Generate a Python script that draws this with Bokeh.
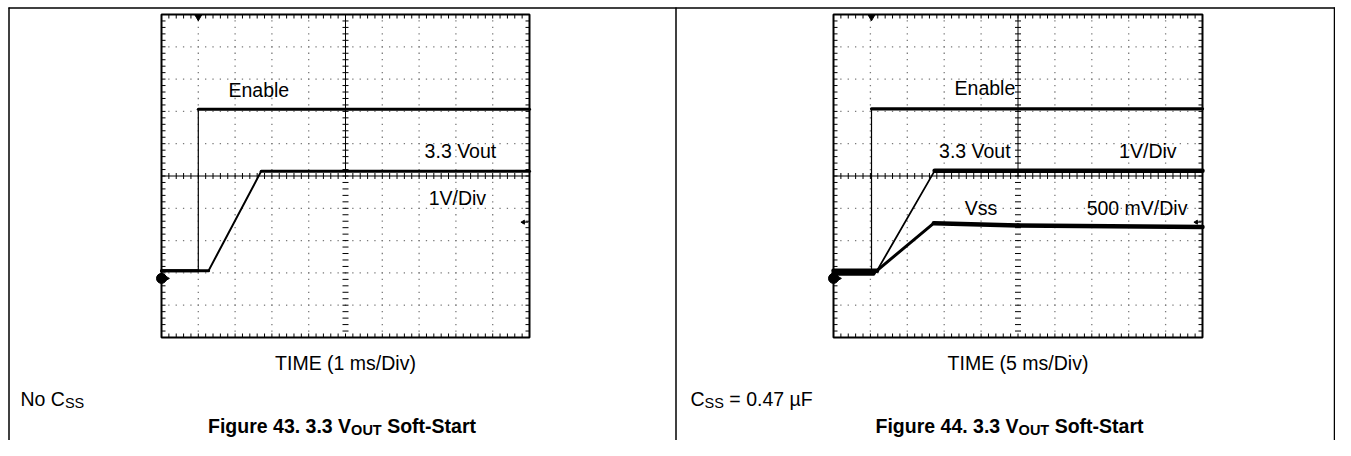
from bokeh.plotting import figure
from bokeh.models import Range1d
from bokeh.embed import file_html
from bokeh.resources import INLINE
from bokeh.core.properties import value

# ---------------- data ----------------
# left scope: time in ms (1 ms/div), vertical position in screen divisions
t1_enable = [0.0, 1.0, 1.0, 10.0]
y1_enable = [-2.93, -2.93, 2.07, 2.07]
t1_vout = [0.0, 1.28, 2.71, 10.0]
y1_vout = [-2.93, -2.93, 0.15, 0.15]

# right scope: time in ms (5 ms/div)
t2_enable = [0.0, 5.15, 5.15, 50.0]
y2_enable = [-2.93, -2.93, 2.08, 2.08]
t2_vout = [0.0, 5.9, 13.7, 50.0]
y2_vout = [-2.93, -2.93, 0.16, 0.16]
t2_vss = [0.0, 5.4, 13.6, 25.0, 50.0]
y2_vss = [-3.02, -3.02, -1.46, -1.53, -1.58]

labels1 = ["Enable", "3.3 Vout", "1V/Div"]
labels2 = ["Enable", "3.3 Vout", "1V/Div", "Vss", "500 mV/Div"]
xlabels = ["TIME (1 ms/Div)", "TIME (5 ms/Div)"]

# ---------------- layout constants (picture pixels) ----------------
W, H = 1335, 440
L1, R1 = 161.0, 529.0
L2, R2 = 833.0, 1202.0
T, B = 14.0, 337.0
FONT = value("Liberation Sans")
FS = 19.5

p = figure(width=W, height=H, output_backend="svg", toolbar_location=None,
           x_range=Range1d(0, W), y_range=Range1d(H, 0),
           x_axis_type=None, y_axis_type=None, min_border=0,
           outline_line_color=None, background_fill_color="white",
           border_fill_color="white")
p.grid.visible = False


def trange(L, R, span):
    k = span / (R - L)
    return Range1d(0 - L * k, span + (W - R) * k)


ky = 10.0 / (B - T)
p.extra_x_ranges = {"t1": trange(L1, R1, 10.0), "t2": trange(L2, R2, 50.0)}
p.extra_y_ranges = {"v": Range1d(-5 - (H - B) * ky, 5 + T * ky)}

# ---------------- page frame lines ----------------
p.segment(x0=[8, 8.5, 675.5, W - 1],
          y0=[7.5, 7, 7, 7],
          x1=[W, 8.5, 675.5, W - 1],
          y1=[7.5, H, H, H],
          line_color="black", line_width=1.5)


def scope(L, R):
    dx = (R - L) / 10.0
    dy = (B - T) / 10.0
    xc = (L + R) / 2
    yc = (T + B) / 2
    xs, ys = [], []
    for i in range(1, 10):
        if i == 5:
            continue
        gx = L + i * dx
        gy = T + i * dy
        for k in range(1, 50):
            xs.append(gx); ys.append(T + k * dy / 5)
            xs.append(L + k * dx / 5); ys.append(gy)
    p.rect(x=xs, y=ys, width=1.3, height=1.3, width_units="screen",
           height_units="screen", fill_color="#7a7a7a", line_color=None)
    p.segment(x0=[xc, L], y0=[T, yc], x1=[xc, R], y1=[yc, yc],
              line_color="black", line_width=1)
    sx0, sy0, sx1, sy1 = [], [], [], []
    for k in range(1, 50):
        xk = L + k * dx / 5
        yk = T + k * dy / 5
        sx0 += [xk, xk, xk, L, R - 4, xc - 3]
        sx1 += [xk, xk, xk, L + 4, R, xc + 3]
        sy0 += [T, B - 4, yc - 3, yk, yk, yk]
        sy1 += [T + 4, B, yc + 3, yk, yk, yk]
    p.segment(x0=sx0, y0=sy0, x1=sx1, y1=sy1, line_color="black", line_width=1)
    p.quad(left=[L], right=[R], top=[T], bottom=[B], fill_color=None,
           line_color="black", line_width=2)


scope(L1, R1)
scope(L2, R2)


def trace(t, y, rng, flat_w=3.0, ramp_w=2.0, edge_w=1.2):
    widths = []
    for i in range(len(t) - 1):
        if t[i] == t[i + 1]:
            widths.append(edge_w)
        elif abs(y[i] - y[i + 1]) < 0.2:
            widths.append(flat_w)
        else:
            widths.append(ramp_w)
    p.segment(x0=t[:-1], y0=y[:-1], x1=t[1:], y1=y[1:], line_color="black",
              line_width=widths, line_cap="round", x_range_name=rng, y_range_name="v")


trace(t1_enable, y1_enable, "t1")
trace(t1_vout, y1_vout, "t1", ramp_w=2.0)
trace(t2_enable, y2_enable, "t2", flat_w=3.2)
trace(t2_vout, y2_vout, "t2", flat_w=4.5, ramp_w=1.8)
trace(t2_vss, y2_vss, "t2", flat_w=4.5, ramp_w=3.0)

# channel ground markers, trigger markers
for rng, span, ttrig in (("t1", 10.0, t1_enable[1]), ("t2", 50.0, t2_enable[1])):
    p.scatter(x=[0], y=[-3.17], size=10, marker="circle", color="black",
              x_range_name=rng, y_range_name="v")
    p.scatter(x=[span * 0.012], y=[-3.17], size=6, marker="triangle", angle=-1.5708,
              color="black", x_range_name=rng, y_range_name="v")
    p.scatter(x=[ttrig], y=[4.93], size=7, marker="inverted_triangle", color="black",
              x_range_name=rng, y_range_name="v")
    p.segment(x0=[span * 0.983], y0=[-1.43], x1=[span * 0.997], y1=[-1.43],
              line_color="black", line_width=1, x_range_name=rng, y_range_name="v")
    p.scatter(x=[span * 0.983], y=[-1.43], size=4, marker="triangle", angle=1.5708,
              color="black", x_range_name=rng, y_range_name="v")

# labels inside the scopes
p.text(x=[1.82, 7.15, 7.26], y=[2.65, 0.77, -0.67], text=labels1,
       text_font=FONT, text_font_size=f"{FS}px", text_align="left",
       text_baseline="middle", text_color="black", x_range_name="t1", y_range_name="v")
p.text(x=[16.4, 14.3, 38.7, 17.8, 34.3], y=[2.71, 0.77, 0.77, -0.98, -0.98],
       text=labels2, text_font=FONT, text_font_size=f"{FS}px", text_align="left",
       text_baseline="middle", text_color="black", x_range_name="t2", y_range_name="v")

# x labels
p.text(x=[(L1 + R1) / 2, (L2 + R2) / 2], y=[362, 362], text=xlabels,
       text_font=FONT, text_font_size=f"{FS}px", text_align="center",
       text_baseline="middle", text_color="black")

# ---- composite texts with subscripts ----
REG = {' ': 278, '(': 333, ')': 333, '.': 278, '/': 278, '=': 584, 'C': 722, 'N': 722,
       'S': 667, 'F': 611, 'o': 556, 'µ': 576}
BOLD = {' ': 278, '.': 278, '-': 333, 'F': 611, 'O': 778, 'S': 667, 'T': 611, 'U': 722,
        'V': 667, 'a': 556, 'e': 556, 'f': 333, 'g': 611, 'i': 278, 'o': 611, 'r': 389,
        't': 333, 'u': 611}


def tw(s, size, bold=False):
    tab = BOLD if bold else REG
    return sum(tab.get(c, 556) for c in s) * size / 1000.0


def compose(pieces, x, y, align_center=False, bold=False):
    total = sum(tw(s, sz, bold) for s, sz, dy in pieces)
    cx = x - total / 2 if align_center else x
    for s, sz, dy in pieces:
        lead = len(s) - len(s.lstrip(" "))
        cx += tw(" " * lead, sz, bold)
        body = s.strip(" ")
        p.text(x=[cx], y=[y + dy], text=[body], text_font=FONT, text_font_size=f"{sz}px",
               text_align="left", text_baseline="middle", text_color="black",
               text_font_style="bold" if bold else "normal")
        cx += tw(body, sz, bold)


SUB = 14.5
compose([("No C", FS, 0), ("SS", SUB, 4.5)], 20, 398)
compose([("C", FS, 0), ("SS", SUB, 4.5), (" = 0.47 µF", FS, 0)], 690, 398)
compose([("Figure 43. 3.3 V", FS, 0), ("OUT", SUB, 4), (" Soft-Start", FS, 0)],
        341.5, 425, align_center=True, bold=True)
compose([("Figure 44. 3.3 V", FS, 0), ("OUT", SUB, 4), (" Soft-Start", FS, 0)],
        1009, 425, align_center=True, bold=True)

open("out.html", "w").write(file_html(p, INLINE))
